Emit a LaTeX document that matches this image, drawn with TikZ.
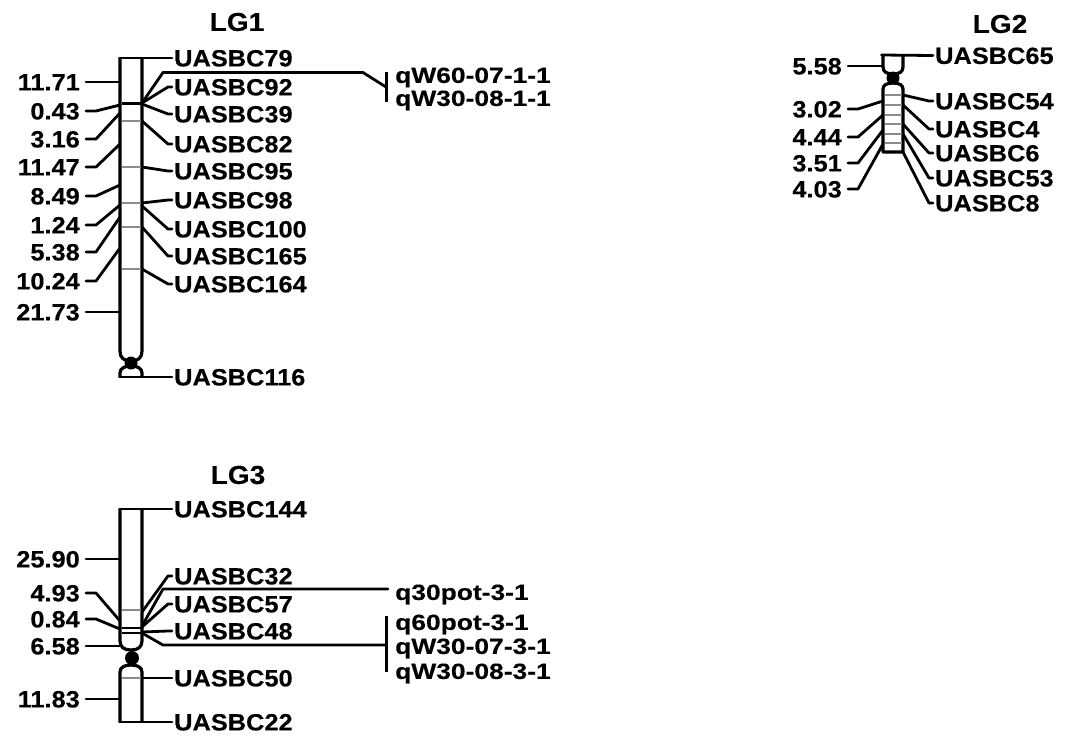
\documentclass[tikz,border=0pt]{standalone}
\usepackage{fontspec}
\newfontfamily\labfont[FakeStretch=1.08, BoldFeatures={FakeBold=0.3}]{Liberation Sans}
\newfontfamily\qfont[FakeStretch=1.2, BoldFeatures={FakeBold=0.3}]{Liberation Sans}
\usetikzlibrary{calc}
\begin{document}
\begin{tikzpicture}[x=1pt,y=-1pt,
  bar/.style={line width=3.2pt, line join=round},
  conn/.style={line width=2.8pt, line join=round, line cap=round},
  mkg/.style={line width=2pt, draw=black!45},
  mkd/.style={line width=3pt, draw=black},
  lab/.style={font=\labfont\bfseries\fontsize{23.5}{24}\selectfont, inner xsep=2pt, inner ysep=0pt, text height=16.8pt, text depth=0pt, anchor=west},
  num/.style={lab, anchor=east, inner xsep=6pt},
  qtl/.style={font=\qfont\bfseries\fontsize{22}{24}\selectfont, inner xsep=0pt, inner ysep=0pt, text height=15.8pt, text depth=0pt, anchor=west},
  ttl/.style={font=\labfont\bfseries\fontsize{26}{28}\selectfont, inner sep=0pt}]
\useasboundingbox (0,0) rectangle (1066,737);

% ================= LG1 =================
\node[ttl] (t1) at (237,22) {LG1};
\draw[bar] (120,58) -- (120,351) .. controls (120,358) and (124,361) .. (131,361) .. controls (138,361) and (142,358) .. (142,351) -- (142,58);
\draw[bar] (120,377) -- (120,373) .. controls (120,368) and (125,366) .. (131,366) .. controls (137,366) and (142,368) .. (142,373) -- (142,377);
\foreach \y in {121,167,203,227,269} \draw[mkg] (121.5,\y) -- (140.5,\y);
\draw[mkd] (121.5,103) -- (140.5,103);

\node[lab] (m79) at (172,58) {UASBC79};
\node[lab] (m92) at (172,87) {UASBC92};
\node[lab] (m39) at (172,114) {UASBC39};
\node[lab] (m82) at (172,144) {UASBC82};
\node[lab] (m95) at (172,171) {UASBC95};
\node[lab] (m98) at (172,200) {UASBC98};
\node[lab] (m100) at (172,229) {UASBC100};
\node[lab] (m165) at (172,256) {UASBC165};
\node[lab] (m164) at (172,284) {UASBC164};
\node[lab] (m116) at (172,377) {UASBC116};

\coordinate (b79) at (119.5,58);
\coordinate (b92) at (142,103);
\coordinate (b39) at (142,104);
\coordinate (b82) at (142,121);
\coordinate (b95) at (142,167);
\coordinate (b98) at (142,203);
\coordinate (b100) at (142,206);
\coordinate (b165) at (142,227);
\coordinate (b164) at (142,269);
\coordinate (b116) at (119.5,377);

\draw[conn] (b79) -- (m79.west);
\foreach \m in {92,39,82,95,98,100,165,164}
  \draw[conn] (b\m) -- ($(m\m.west)+(-4,0)$) -- (m\m.west);
\draw[conn] (b116) -- (m116.west);

\node[num] (n11) at (86,82) {11.71};
\node[num] (n12) at (86,111) {0.43};
\node[num] (n13) at (86,139) {3.16};
\node[num] (n14) at (86,167) {11.47};
\node[num] (n15) at (86,196) {8.49};
\node[num] (n16) at (86,225) {1.24};
\node[num] (n17) at (86,252) {5.38};
\node[num] (n18) at (86,281) {10.24};
\node[num] (n19) at (86,312) {21.73};
\coordinate (c11) at (120,82);
\coordinate (c12) at (120,105);
\coordinate (c13) at (120,113);
\coordinate (c14) at (120,144);
\coordinate (c15) at (120,185);
\coordinate (c16) at (120,205);
\coordinate (c17) at (120,217);
\coordinate (c18) at (120,248);
\coordinate (c19) at (120,312);
\draw[conn] (n11.east) -- (c11);
\foreach \i in {12,13,14,15,16,17,18}
  \draw[conn] (n\i.east) -- ++(10,0) -- (c\i);
\draw[conn] (n19.east) -- (c19);

\coordinate (br1) at (386,87);
\draw[conn] (b92) -- (163,72.5) -- (363,72.5) -- (br1);
\draw[line width=3pt] (386,72) -- (386,102);
\node[qtl] (q11) at (395,75) {qW60-07-1-1};
\node[qtl] (q12) at (395,98) {qW30-08-1-1};

\fill (131,363) circle (6.5pt);

% ================= LG2 =================
\node[ttl] (t2) at (1000,24) {LG2};
\draw[bar] (883,55) -- (883,67) .. controls (883,72) and (887,74) .. (893,74) .. controls (899,74) and (903,72) .. (903,67) -- (903,55);
\draw[bar] (883,152) -- (883,89) .. controls (883,85) and (887,83) .. (893,83) .. controls (899,83) and (903,85) .. (903,89) -- (903,152) -- cycle;
\foreach \y in {95,105,115,124,134,143} \draw[mkg] (884.5,\y) -- (901.5,\y);
\fill (893,78) circle (6.5pt);

\node[lab] (m65) at (933,55.5) {UASBC65};
\node[lab] (m54) at (933,101) {UASBC54};
\node[lab] (m4) at (933,129) {UASBC4};
\node[lab] (m6) at (933,153) {UASBC6};
\node[lab] (m53) at (933,178) {UASBC53};
\node[lab] (m8) at (933,203) {UASBC8};
\coordinate (b65) at (881.5,55);
\coordinate (b54) at (903,95);
\coordinate (b4) at (903,105);
\coordinate (b6) at (903,124);
\coordinate (b53) at (903,134);
\coordinate (b8) at (903,152);
\draw[conn] (b65) -- (m65.west);
\foreach \m in {54,4,6,53,8}
  \draw[conn] (b\m) -- ($(m\m.west)+(-4,0)$) -- (m\m.west);

\node[num] (n21) at (848,66) {5.58};
\node[num] (n22) at (848,109) {3.02};
\node[num] (n23) at (848,137) {4.44};
\node[num] (n24) at (848,163) {3.51};
\node[num] (n25) at (848,189) {4.03};
\coordinate (c21) at (883,66);
\coordinate (c22) at (883,101);
\coordinate (c23) at (883,115);
\coordinate (c24) at (883,130);
\coordinate (c25) at (883,144);
\draw[conn] (n21.east) -- (c21);
\foreach \i in {22,23,24,25}
  \draw[conn] (n\i.east) -- ++(10,0) -- (c\i);

% ================= LG3 =================
\node[ttl] (t3) at (238,475) {LG3};
\draw[bar] (120,509) -- (120,641) .. controls (120,647) and (124,650) .. (131,650) .. controls (138,650) and (142,647) .. (142,641) -- (142,509);
\draw[bar] (120,722) -- (120,672) .. controls (120,667) and (125,665) .. (131,665) .. controls (137,665) and (142,667) .. (142,672) -- (142,722);
\foreach \y in {610,678} \draw[mkg] (121.5,\y) -- (140.5,\y);
\foreach \y in {628,633} \draw[mkd, line width=2.5pt] (121.5,\y) -- (140.5,\y);

\node[lab] (m144) at (172,509) {UASBC144};
\node[lab] (m32) at (172,576) {UASBC32};
\node[lab] (m57) at (172,604) {UASBC57};
\node[lab] (m48) at (172,631) {UASBC48};
\node[lab] (m50) at (172,678) {UASBC50};
\node[lab] (m22) at (172,722) {UASBC22};
\coordinate (b144) at (119.5,509);
\coordinate (b32) at (142,612);
\coordinate (b57) at (142,627);
\coordinate (b48) at (142,632);
\coordinate (b50) at (142,678);
\coordinate (b22) at (119.5,722);
\draw[conn] (b144) -- (m144.west);
\foreach \m in {32,57,48}
  \draw[conn] (b\m) -- ($(m\m.west)+(-4,0)$) -- (m\m.west);
\draw[conn] (b50) -- (m50.west);
\draw[conn] (b22) -- (m22.west);

\node[num] (n31) at (86,559) {25.90};
\node[num] (n32) at (86,593) {4.93};
\node[num] (n33) at (86,619) {0.84};
\node[num] (n34) at (86,646) {6.58};
\node[num] (n35) at (86,699) {11.83};
\coordinate (c31) at (120,559);
\coordinate (c32) at (120,621);
\coordinate (c33) at (120,629);
\coordinate (c34) at (120,646);
\coordinate (c35) at (120,699);
\draw[conn] (n31.east) -- (c31);
\draw[conn] (n32.east) -- ++(10,0) -- (c32);
\draw[conn] (n33.east) -- ++(10,0) -- (c33);
\draw[conn] (n34.east) -- (c34);
\draw[conn] (n35.east) -- (c35);

\coordinate (bq1) at (142,626);
\coordinate (bq2) at (142,633);
\coordinate (e30) at (388,589);
\coordinate (br3) at (386,645);
\draw[conn] (bq1) -- (163,589) -- (e30);
\draw[conn] (bq2) -- (163,645) -- (br3);
\draw[line width=3pt] (386,616) -- (386,672);
\node[qtl] (q31) at (395,592) {q30pot-3-1};
\node[qtl] (q32) at (395,622) {q60pot-3-1};
\node[qtl] (q33) at (395,646) {qW30-07-3-1};
\node[qtl] (q34) at (395,671) {qW30-08-3-1};

\fill (132,658) circle (7pt);
\end{tikzpicture}
\end{document}
